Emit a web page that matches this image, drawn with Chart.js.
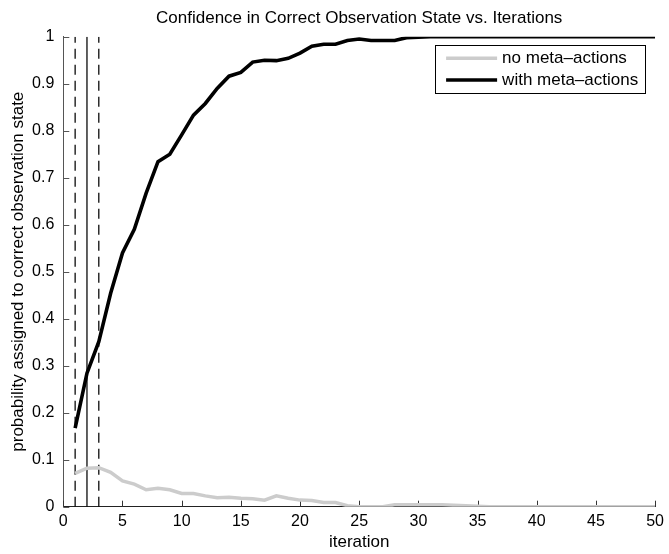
<!DOCTYPE html>
<html>
<head>
<meta charset="utf-8">
<script src="https://cdn.jsdelivr.net/npm/chart.js@4.4.1/dist/chart.umd.min.js"></script>
<style>
  html, body { margin: 0; padding: 0; background: #ffffff; }
  #wrap { width: 669px; height: 554px; position: relative; }
</style>
</head>
<body>
<div id="wrap"><canvas id="c" width="669" height="554"></canvas></div>
<script>
// ---- data ----
const iterations = [1,2,3,4,5,6,7,8,9,10,11,12,13,14,15,16,17,18,19,20,21,22,23,24,25,26,27,28,29,30,31,32,33,34,35,36,37,38,39,40,41,42,43,44,45,46,47,48,49,50];
const noMetaActions = [0.071,0.082,0.083,0.073,0.055,0.048,0.036,0.039,0.036,0.028,0.028,0.023,0.019,0.020,0.018,0.017,0.014,0.023,0.018,0.014,0.013,0.009,0.009,0.002,0,0,0,0.004,0.004,0.004,0.004,0.004,0.003,0.002,0.001,0,0,0,0,0,0,0,0,0,0,0,0,0,0,0];
const withMetaActions = [0.167,0.284,0.351,0.454,0.540,0.590,0.667,0.734,0.750,0.791,0.833,0.858,0.890,0.916,0.924,0.946,0.950,0.949,0.954,0.965,0.980,0.984,0.984,0.992,0.995,0.992,0.992,0.992,0.998,0.999,1,1,1,1,1,1,1,1,1,1,1,1,1,1,1,1,1,1,1,1];
const markerIterations = [1, 2, 3];
const markerSolid = [false, true, false];
const xTickValues = [0,5,10,15,20,25,30,35,40,45,50];
const yTickValues = [0,0.1,0.2,0.3,0.4,0.5,0.6,0.7,0.8,0.9,1];
const yTickLabels = ['0','0.1','0.2','0.3','0.4','0.5','0.6','0.7','0.8','0.9','1'];
const seriesLabels = ['no meta\u2013actions', 'with meta\u2013actions'];
const titleText = 'Confidence in Correct Observation State vs. Iterations';
const xTitle = 'iteration';
const yTitle = 'probability assigned to correct observation state';

const FONT = 'Liberation Sans, Arial, Helvetica, sans-serif';
const GREY = '#cccccc';

const toXY = (ys) => iterations.map((x, i) => ({x: x, y: ys[i]}));

const markerSets = markerIterations.map((m, i) => ({
  label: 'marker' + m,
  data: [{x: m, y: 0}, {x: m, y: 1}],
  borderColor: '#000000',
  borderWidth: 1.25,
  borderDash: markerSolid[i] ? [] : [10, 6],
  pointRadius: 0,
  fill: false,
  order: 3
}));

const inwardTicks = {
  id: 'inwardTicks',
  beforeDatasetsDraw(chart) {
    const ctx = chart.ctx;
    const xs = chart.scales.x, ys = chart.scales.y;
    const a = chart.chartArea;
    const len = 6;
    ctx.save();
    ctx.lineWidth = 1;
    ctx.strokeStyle = '#333333';
    xTickValues.forEach(v => {
      const px = Math.round(xs.getPixelForValue(v)) + 0.5;
      ctx.beginPath();
      ctx.moveTo(px, a.bottom);
      ctx.lineTo(px, a.bottom - len);
      ctx.stroke();
    });
    ctx.strokeStyle = '#555555';
    yTickValues.forEach(v => {
      const py = Math.round(ys.getPixelForValue(v)) + 0.5;
      ctx.beginPath();
      ctx.moveTo(a.left, py);
      ctx.lineTo(a.left + len, py);
      ctx.stroke();
    });
    ctx.restore();
  }
};

const centeredTitle = {
  id: 'centeredTitle',
  afterDraw(chart) {
    const ctx = chart.ctx;
    const a = chart.chartArea;
    ctx.save();
    ctx.font = '17px ' + FONT;
    ctx.fillStyle = '#000000';
    ctx.textAlign = 'center';
    ctx.textBaseline = 'middle';
    ctx.fillText(titleText, (a.left + a.right) / 2, 18);
    ctx.restore();
  }
};

const boxLegend = {
  id: 'boxLegend',
  afterDraw(chart) {
    const ctx = chart.ctx;
    const a = chart.chartArea;
    const right = a.right - 10, top = a.top + 8;
    const w = 210, h = 48;
    const left = right - w;
    ctx.save();
    ctx.fillStyle = '#ffffff';
    ctx.fillRect(left, top, w, h);
    ctx.strokeStyle = '#000000';
    ctx.lineWidth = 1;
    ctx.strokeRect(Math.round(left) + 0.5, Math.round(top) + 0.5, w, h);
    const colors = [GREY, '#000000'];
    ctx.font = '17px ' + FONT;
    ctx.textBaseline = 'middle';
    ctx.textAlign = 'left';
    seriesLabels.forEach((lab, i) => {
      const cy = top + 13.5 + i * 21.7;
      ctx.strokeStyle = colors[i];
      ctx.lineWidth = 3.5;
      ctx.beginPath();
      ctx.moveTo(left + 11, cy);
      ctx.lineTo(left + 62, cy);
      ctx.stroke();
      ctx.fillStyle = '#000000';
      ctx.fillText(lab, left + 67, cy);
    });
    ctx.restore();
  }
};

new Chart(document.getElementById('c'), {
  type: 'line',
  data: {
    datasets: [
      {
        label: seriesLabels[1],
        data: toXY(withMetaActions),
        borderColor: '#000000',
        borderWidth: 3.6,
        pointRadius: 0,
        tension: 0,
        fill: false,
        order: 1
      },
      {
        label: seriesLabels[0],
        data: toXY(noMetaActions),
        borderColor: GREY,
        borderWidth: 3.5,
        pointRadius: 0,
        tension: 0,
        fill: false,
        order: 2
      },
      ...markerSets
    ]
  },
  options: {
    responsive: false,
    animation: false,
    events: [],
    layout: { padding: { left: 0, right: 9, top: 36.7, bottom: 0 } },
    plugins: {
      legend: { display: false },
      tooltip: { enabled: false },
      title: { display: false }
    },
    scales: {
      x: {
        type: 'linear',
        min: 0, max: 50,
        afterBuildTicks: (s) => { s.ticks = xTickValues.map(v => ({value: v})); },
        afterFit: (s) => { s.height = 47.3; },
        grid: { display: true, drawOnChartArea: false, drawTicks: false },
        border: { display: true, color: '#222222', width: 1 },
        ticks: { color: '#000000', padding: 5, font: { family: FONT, size: 16 }, maxRotation: 0 },
        title: { display: true, text: xTitle, color: '#000000', font: { family: FONT, size: 17 }, padding: { top: 0, bottom: 1.3 } }
      },
      y: {
        type: 'linear',
        min: 0, max: 1,
        afterBuildTicks: (s) => { s.ticks = yTickValues.map(v => ({value: v})); },
        afterFit: (s) => { s.width = 63.3; },
        grid: { display: true, drawOnChartArea: false, drawTicks: false },
        border: { display: true, color: '#555555', width: 1 },
        ticks: {
          color: '#000000', padding: 9, font: { family: FONT, size: 16 },
          callback: (v, i) => yTickLabels[i]
        },
        title: { display: true, text: yTitle, color: '#000000', font: { family: FONT, size: 17 }, padding: { top: 8, bottom: 0 } }
      }
    }
  },
  plugins: [inwardTicks, centeredTitle, boxLegend]
});
</script>
</body>
</html>
